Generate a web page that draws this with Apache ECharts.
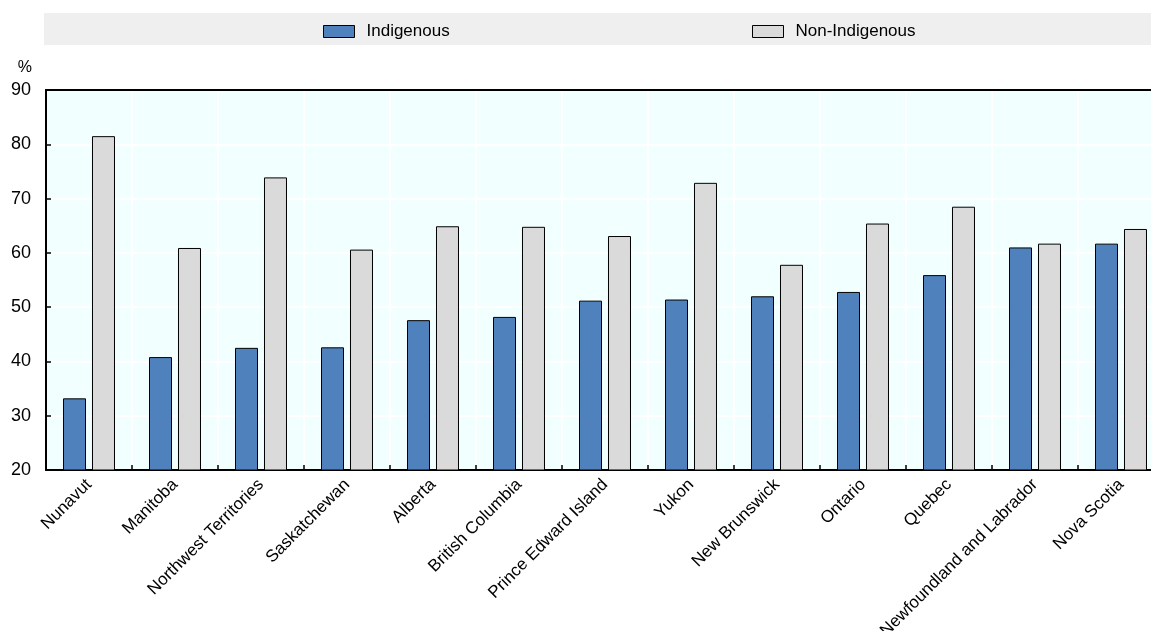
<!DOCTYPE html>
<html>
<head>
<meta charset="utf-8">
<script src="https://cdn.jsdelivr.net/npm/echarts@6/dist/echarts.min.js"></script>
<style>html,body{margin:0;padding:0;background:#fff}#chart{width:1151px;height:631px}</style>
</head>
<body>
<div id="chart"></div>
<script>
const categories = ["Nunavut","Manitoba","Northwest Territories","Saskatchewan","Alberta","British Columbia","Prince Edward Island","Yukon","New Brunswick","Ontario","Quebec","Newfoundland and Labrador","Nova Scotia"];
const indigenous = [33.2, 40.8, 42.5, 42.6, 47.6, 48.2, 51.2, 51.4, 52.0, 52.8, 55.9, 61.0, 61.7];
const nonIndigenous = [81.5, 60.9, 73.9, 60.6, 64.9, 64.8, 63.1, 72.9, 57.8, 65.4, 68.5, 61.7, 64.4];
const yTicks = {min: 20, max: 90, interval: 10};

const chart = echarts.init(document.getElementById('chart'), null, {renderer: 'canvas'});
const font = 'Liberation Sans, Arial, sans-serif';
const legendText = {fontFamily: font, fontSize: 17, color: '#000', padding: [0, 0, 0, 7]};
chart.setOption({
  animation: false,
  graphic: [{
    type: 'rect', left: 44, top: 13, shape: {width: 1107, height: 32},
    style: {fill: '#efefef'}, silent: true, z: -1
  }, {
    type: 'line', shape: {x1: 45, y1: 90, x2: 1151, y2: 90}, style: {stroke: '#000', lineWidth: 2}, silent: true, z: 10
  }],
  legend: [{
    data: [{name: 'Indigenous', icon: 'rect'}], left: 323, top: 23, padding: 0, itemWidth: 31, itemHeight: 12,
    textStyle: legendText,
    itemStyle: {borderColor: '#000', borderWidth: 1}
  }, {
    data: [{name: 'Non-Indigenous', icon: 'rect'}], left: 752, top: 23, padding: 0, itemWidth: 31, itemHeight: 12,
    textStyle: legendText,
    itemStyle: {borderColor: '#000', borderWidth: 1}
  }],
  grid: {left: 46, right: -13, top: 90, bottom: 161, show: true, backgroundColor: '#f2ffff', borderWidth: 0, containLabel: false, outerBoundsMode: 'none'},
  xAxis: {
    type: 'category', data: categories,
    axisLine: {lineStyle: {color: '#000', width: 2}},
    axisTick: {show: true, inside: true, length: 5, lineStyle: {color: '#000', width: 1.5}},
    splitLine: {show: true, lineStyle: {color: '#ffffff', width: 2}},
    axisLabel: {interval: 0, rotate: 45, fontFamily: font, fontSize: 17, color: '#000', margin: 12}
  },
  yAxis: {
    type: 'value', min: yTicks.min, max: yTicks.max, interval: yTicks.interval,
    name: '%', nameLocation: 'end', nameGap: 14,
    nameTextStyle: {fontFamily: font, fontSize: 16, color: '#000', align: 'right', padding: [0, 14, 0, 0]},
    axisLine: {show: true, lineStyle: {color: '#000', width: 2}},
    axisTick: {show: true, inside: true, length: 5, lineStyle: {color: '#000', width: 1.5}},
    splitLine: {show: true, lineStyle: {color: '#ffffff', width: 2}},
    axisLabel: {fontFamily: font, fontSize: 18, color: '#000', margin: 15}
  },
  series: [{
    name: 'Indigenous', type: 'bar', data: indigenous, barWidth: 23, barGap: '26%',
    itemStyle: {color: '#4f81bd', borderColor: '#000', borderWidth: 1}
  }, {
    name: 'Non-Indigenous', type: 'bar', data: nonIndigenous, barWidth: 23,
    itemStyle: {color: '#dadada', borderColor: '#000', borderWidth: 1}
  }]
});
</script>
</body>
</html>
